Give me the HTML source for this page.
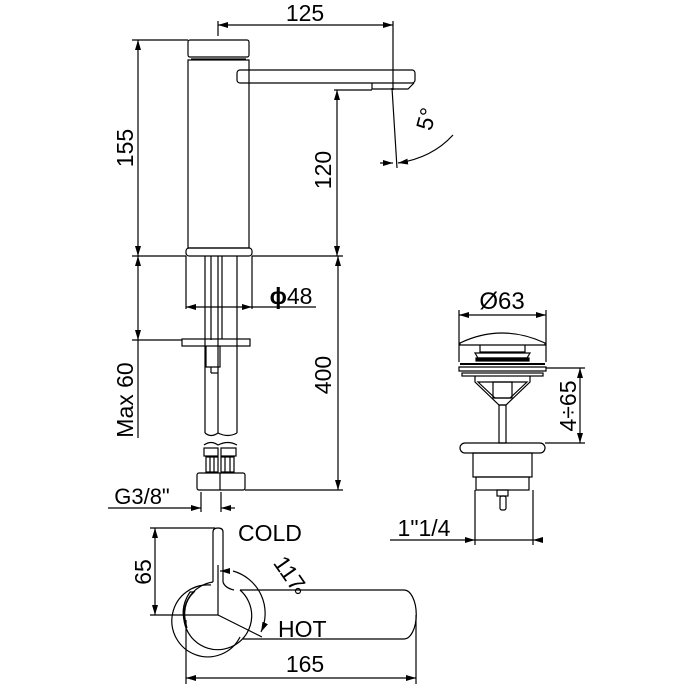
<!DOCTYPE html>
<html><head><meta charset="utf-8"><style>
html,body{margin:0;padding:0;background:#fff}
svg{display:block}
text{font-family:"Liberation Sans",sans-serif;fill:#000}
</style></head><body>
<svg width="688" height="688" viewBox="0 0 688 688" xmlns="http://www.w3.org/2000/svg">
<defs>
<marker id="a" viewBox="0 0 10 6" refX="10" refY="3" markerWidth="10" markerHeight="6" orient="auto-start-reverse" markerUnits="userSpaceOnUse"><path d="M0,0L10,3L0,6z" fill="#000"/></marker>
</defs>
<g fill="none" stroke="#000" stroke-width="1.2">
<rect x="188" y="40" width="61" height="17" rx="2"/>
<line x1="191" y1="59" x2="246" y2="59"/>
<rect x="188" y="60" width="61" height="188"/>
<rect x="237" y="70" width="178" height="13" rx="3"/>
<path d="M372,83 L372,89 L408,89 L414,83"/>
<rect x="186" y="248" width="66" height="8" rx="3"/>
<line x1="218" y1="25" x2="393" y2="25" marker-start="url(#a)" marker-end="url(#a)"/>
<line x1="218" y1="21" x2="218" y2="36"/>
<line x1="393" y1="21" x2="393" y2="90"/>
<line x1="132" y1="40" x2="188" y2="40"/>
<line x1="138" y1="40" x2="138" y2="256" marker-start="url(#a)" marker-end="url(#a)"/>
<line x1="334" y1="90" x2="372" y2="90"/>
<line x1="337" y1="90" x2="337" y2="256" marker-start="url(#a)" marker-end="url(#a)"/>
<line x1="392" y1="88" x2="397" y2="168"/>
<line x1="380" y1="163" x2="393" y2="163" marker-end="url(#a)"/>
<path d="M453,135 Q432,158 398,163" marker-end="url(#a)"/>
<line x1="132" y1="256" x2="186" y2="256"/>
<line x1="252" y1="256" x2="343" y2="256"/>
<line x1="205" y1="256" x2="205" y2="433"/>
<line x1="211" y1="256" x2="211" y2="340"/>
<line x1="218" y1="256" x2="218" y2="433"/>
<line x1="222" y1="256" x2="222" y2="339"/>
<line x1="237" y1="256" x2="237" y2="433"/>
<path d="M206,346 L206,367 L220,367 L220,346"/>
<line x1="211" y1="367" x2="211" y2="373"/>
<line x1="218" y1="373" x2="211" y2="373"/>
<rect x="182" y="339" width="68" height="7"/>
<path d="M205,433 Q211,438 218,433 Q228,438 237,433"/>
<path d="M204,445 Q211,440 218,445 Q228,440 237,445"/>
<rect x="204" y="448" width="14" height="8"/><rect x="221" y="448" width="15" height="8"/>
<rect x="206" y="457" width="12" height="15"/><rect x="221" y="457" width="13" height="15"/>
<line x1="210" y1="457" x2="210" y2="472"/><line x1="214" y1="457" x2="214" y2="472"/>
<line x1="225" y1="457" x2="225" y2="472"/><line x1="230" y1="457" x2="230" y2="472"/>
<rect x="197" y="473" width="48" height="17" rx="2"/>
<line x1="220" y1="473" x2="220" y2="490"/>
<line x1="186" y1="256" x2="186" y2="309"/>
<line x1="252" y1="256" x2="252" y2="309"/>
<line x1="186" y1="307" x2="252" y2="307" marker-start="url(#a)" marker-end="url(#a)"/>
<line x1="252" y1="307" x2="316" y2="307"/>
<line x1="132" y1="340" x2="182" y2="340"/>
<line x1="138" y1="256" x2="138" y2="340" marker-start="url(#a)" marker-end="url(#a)"/>
<line x1="138" y1="340" x2="138" y2="438"/>
<line x1="245" y1="490" x2="343" y2="490"/>
<line x1="338" y1="256" x2="338" y2="490" marker-start="url(#a)" marker-end="url(#a)"/>
<line x1="201" y1="492" x2="201" y2="512"/>
<line x1="221" y1="492" x2="221" y2="512"/>
<line x1="108" y1="508" x2="201" y2="508" marker-end="url(#a)"/>
<line x1="235" y1="508" x2="221" y2="508" marker-end="url(#a)"/>
<line x1="150" y1="528" x2="215" y2="528"/>
<line x1="150" y1="615" x2="218" y2="615"/>
<line x1="155" y1="528" x2="155" y2="615" marker-start="url(#a)" marker-end="url(#a)"/>
<path d="M213,582 L213,532 Q213,528 218,528 Q223,528 223,532 L223,582"/>
<path d="M213,582 A34,34 0 1 0 240,590"/>
<path d="M211,585 A36,36 0 1 0 240,637"/>
<path d="M190,592 Q178,610 187,628 Q180,605 194,592 Z"/>
<path d="M240,590 L404,590 A12,24 0 0 1 404,639 L243,639"/>
<path d="M223,582 Q225,588 234,590"/>
<line x1="218" y1="565" x2="218" y2="615"/>
<line x1="218" y1="615" x2="262" y2="637"/>
<path d="M233,571 A44,44 0 0 1 261,632" marker-end="url(#a)"/>
<path d="M230,571 L220,571" marker-end="url(#a)"/>
<circle cx="298" cy="591" r="2.5"/>
<line x1="186" y1="620" x2="186" y2="684"/>
<line x1="416" y1="615" x2="416" y2="684"/>
<line x1="186" y1="678" x2="416" y2="678" marker-start="url(#a)" marker-end="url(#a)"/>
<line x1="459" y1="310" x2="459" y2="362"/>
<line x1="546" y1="310" x2="546" y2="362"/>
<line x1="459" y1="315" x2="546" y2="315" marker-start="url(#a)" marker-end="url(#a)"/>
<path d="M460,343 Q502,323 545,343 L545,345 L460,345 Z"/>
<path d="M480,345 L480,352 L525,352 L525,345"/>
<path d="M475,353 L530,353 L527,358 L478,358 Z"/>
<rect x="476" y="358" width="53" height="3" fill="#000"/>
<path d="M459,367 L546,367 L546,371 L459,371 Z"/>
<line x1="460" y1="364" x2="545" y2="364" stroke-width="2"/>
<rect x="462" y="373" width="81" height="3"/>
<path d="M475,376 L475,382 L499,405 L506,405 L530,382 L530,376"/>
<path d="M478,382 L495,398 L510,398 L527,382 Z"/>
<rect x="493" y="382" width="19" height="16"/>
<rect x="499" y="405" width="7" height="38"/>
<rect x="460" y="443" width="85" height="10" rx="5"/>
<rect x="473" y="453" width="59" height="24"/>
<rect x="476" y="477" width="53" height="13"/>
<rect x="497" y="490" width="11" height="6"/>
<rect x="500" y="496" width="6" height="14" rx="2"/>
<line x1="546" y1="368" x2="585" y2="368"/>
<line x1="545" y1="443" x2="585" y2="443"/>
<line x1="580" y1="368" x2="580" y2="443" marker-start="url(#a)" marker-end="url(#a)"/>
<line x1="475" y1="490" x2="475" y2="545"/>
<line x1="533" y1="490" x2="533" y2="545"/>
<line x1="390" y1="540" x2="475" y2="540" marker-end="url(#a)"/>
<line x1="540" y1="540" x2="533" y2="540" marker-end="url(#a)"/>
<line x1="475" y1="540" x2="533" y2="540"/>
</g>
<text x="305" y="21" font-size="23" text-anchor="middle">125</text>
<text transform="translate(133,148) rotate(-90)" font-size="23" text-anchor="middle">155</text>
<text transform="translate(331,170) rotate(-90)" font-size="23" text-anchor="middle">120</text>
<text transform="translate(434,121) rotate(-75)" font-size="23" text-anchor="middle">5°</text>
<text x="291" y="304" font-size="23" text-anchor="middle"><tspan font-weight="bold">ϕ</tspan>48</text>
<text transform="translate(133,400) rotate(-90)" font-size="23" text-anchor="middle">Max 60</text>
<text transform="translate(331,375) rotate(-90)" font-size="23" text-anchor="middle">400</text>
<text x="142" y="504" font-size="22" text-anchor="middle">G3/8"</text>
<text transform="translate(151,572) rotate(-90)" font-size="23" text-anchor="middle">65</text>
<text x="238" y="541" font-size="23">COLD</text>
<text transform="translate(283,578) rotate(55)" font-size="23" text-anchor="middle">117</text>
<text x="278" y="637" font-size="23">HOT</text>
<text x="305" y="672" font-size="23" text-anchor="middle">165</text>
<text x="502" y="309" font-size="24" text-anchor="middle">Ø63</text>
<text transform="translate(576,406) rotate(-90)" font-size="23" text-anchor="middle">4÷65</text>
<text x="424" y="536" font-size="23" text-anchor="middle">1"1/4</text>
</svg>
</body></html>
